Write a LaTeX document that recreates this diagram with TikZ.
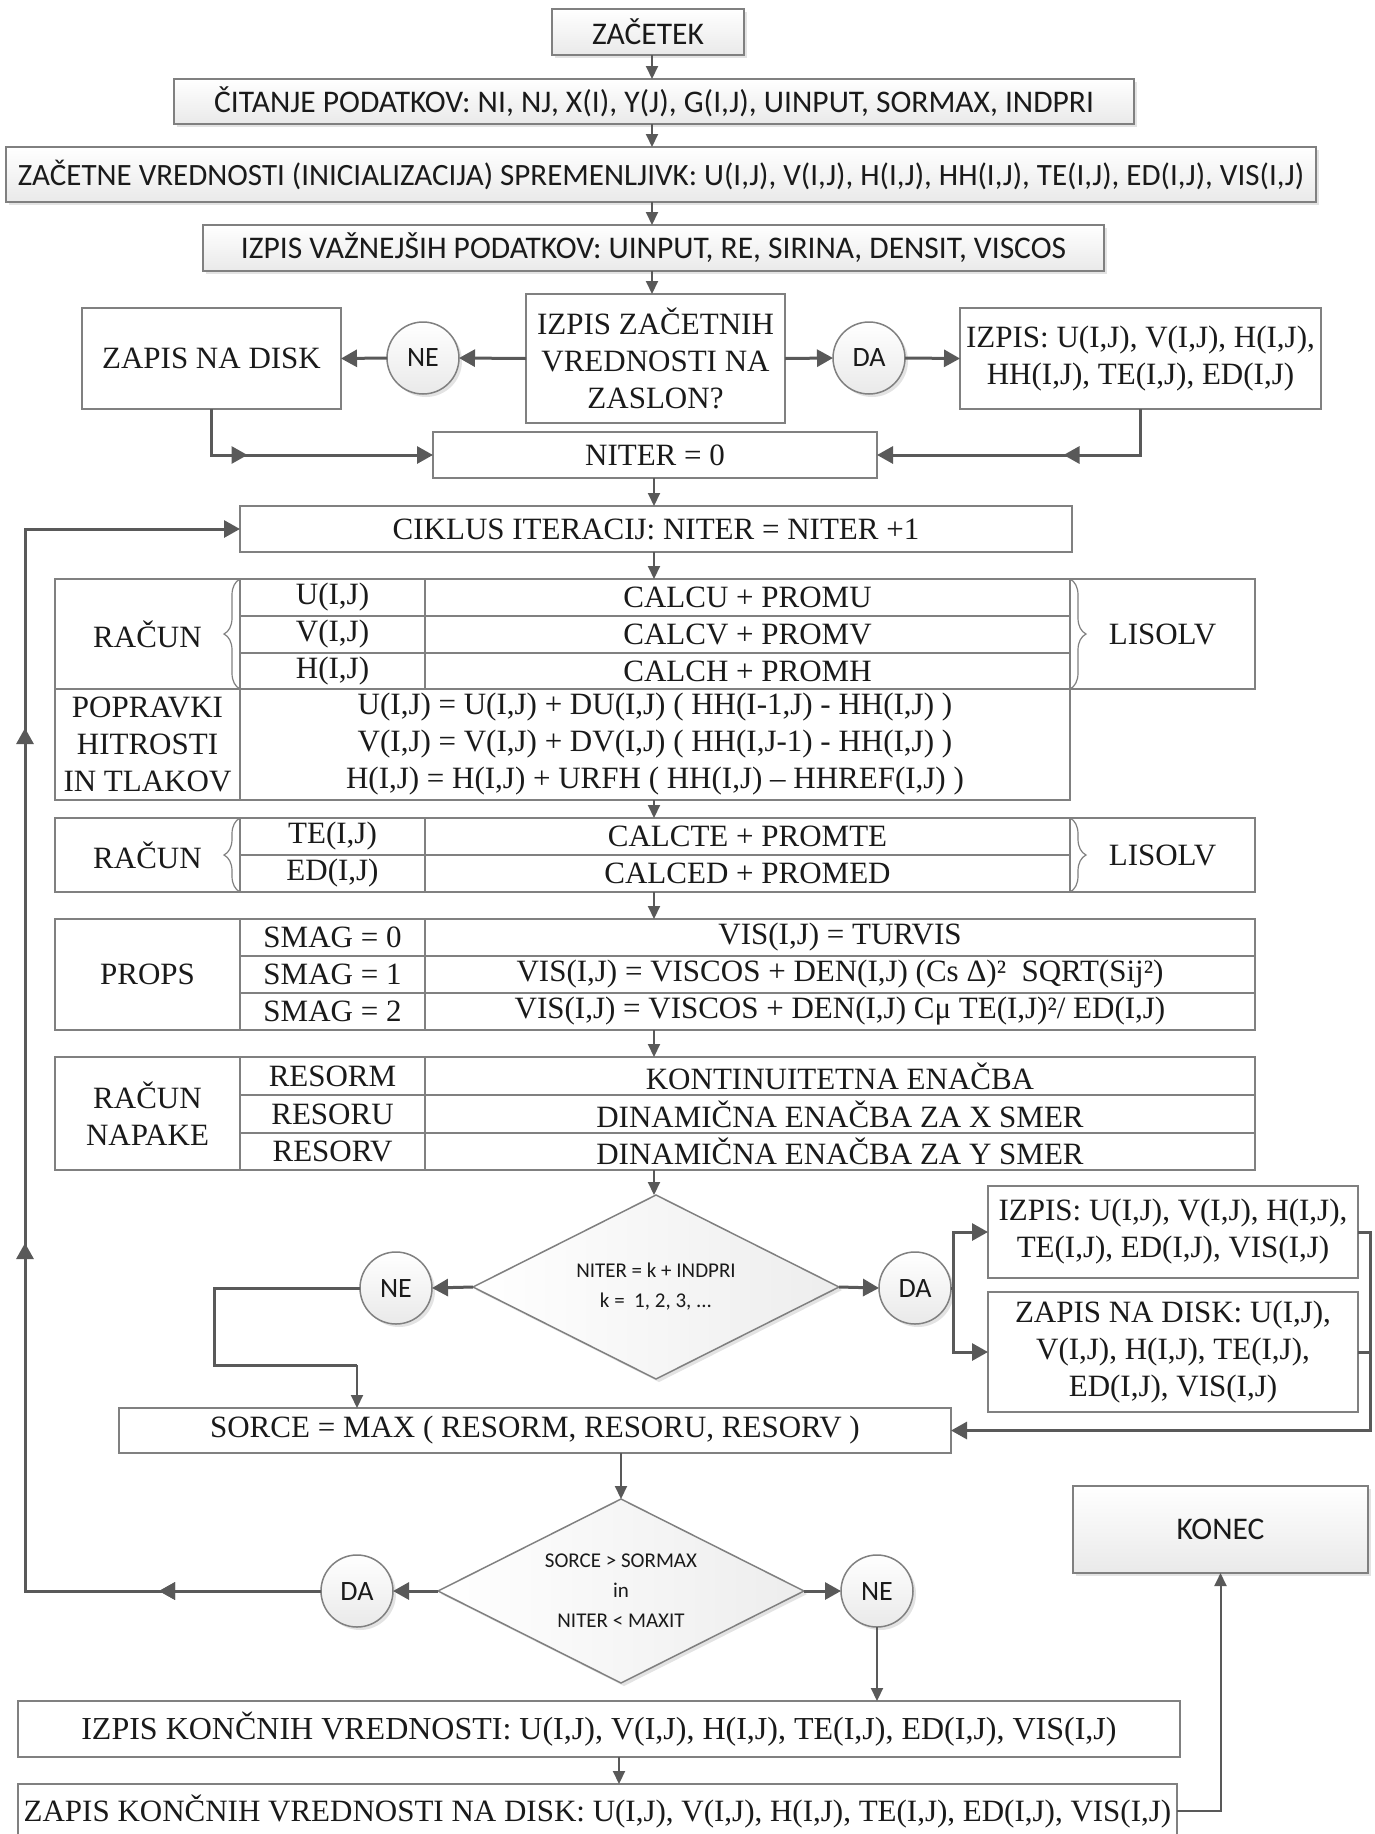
\documentclass[tikz,border=0pt]{standalone}
\usepackage{fontspec}
\setmainfont{Liberation Serif}
\newfontfamily\calfont{Carlito}
\usetikzlibrary{arrows.meta,shapes.geometric,shadows,decorations.pathreplacing,decorations.markings}

\definecolor{linegray}{HTML}{595959}
\definecolor{framegray}{HTML}{808080}
\definecolor{ink}{HTML}{1A1A1A}

\newcommand{\txtserif}{\fontsize{31}{37}\selectfont}
\newcommand{\txtsans}{\calfont\fontsize{31.5}{36}\selectfont}
\newcommand{\txtsmall}{\calfont\fontsize{21}{30}\selectfont}
\newcommand{\txtcirc}{\calfont\fontsize{28}{30}\selectfont}

\tikzset{
  box/.style={draw=framegray, line width=1.5pt, inner sep=0pt, outer sep=0pt,
    text=ink, align=center, font=\txtserif, fill=white},
  gbox/.style={box, font=\txtsans, top color=white, bottom color=gray!17,
    drop shadow={opacity=0.22, shadow xshift=3pt, shadow yshift=-3pt}},
  circ/.style={gbox, circle, minimum size=72pt, font=\txtcirc},
  dec/.style={gbox, diamond, aspect=2, minimum width=366pt, minimum height=184pt,
    font=\txtsmall, left color=white, right color=gray!14},
  tip/.tip={Triangle[length=13pt,width=12pt]},
  bigtip/.tip={Triangle[length=16pt,width=17pt]},
  con/.style={draw, color=linegray, line width=2pt, -tip},
  tline/.style={draw, color=linegray, line width=3pt},
  tcon/.style={tline, -bigtip},
  midtip/.style={postaction={decorate}, decoration={markings,
    mark=at position #1 with {\arrow{bigtip}}}},
  brc/.style={draw=framegray, line width=1.2pt, decorate,
    decoration={brace, amplitude=16pt}}
}

\begin{document}
\begin{tikzpicture}[x=1pt, y=-1pt]
\useasboundingbox (0,0) rectangle (1374,1834);
\coordinate (ax) at (652,0);
\coordinate (bx) at (654,0);
\coordinate (cx) at (619,0);

% --- start and input
\node[gbox, minimum width=192pt, minimum height=46pt] (zacetek) at (648,32) {ZAČETEK};
\node[gbox, minimum width=960pt, minimum height=45pt] (citanje) at (654,101.5)
  {ČITANJE PODATKOV: NI, NJ, X(I), Y(J), G(I,J), UINPUT, SORMAX, INDPRI};
\node[gbox, minimum width=1310pt, minimum height=55pt, font=\calfont\fontsize{31}{36}\selectfont]
  (zacetne) at (661,174.5)
  {ZAČETNE VREDNOSTI (INICIALIZACIJA) SPREMENLJIVK: U(I,J), V(I,J), H(I,J), HH(I,J), TE(I,J), ED(I,J), VIS(I,J)};
\node[gbox, minimum width=901pt, minimum height=46pt] (izpisvaz) at (653.5,248)
  {IZPIS VAŽNEJŠIH PODATKOV: UINPUT, RE, SIRINA, DENSIT, VISCOS};

\draw[con] (ax |- zacetek.south) -- (ax |- citanje.north);
\draw[con] (ax |- citanje.south) -- (ax |- zacetne.north);
\draw[con] (ax |- zacetne.south) -- (ax |- izpisvaz.north);

% --- first question
\node[box, minimum width=259pt, minimum height=129pt] (q1) at (655.5,358.5)
  {IZPIS ZAČETNIH\\VREDNOSTI NA\\ZASLON?};
\draw[con] (ax |- izpisvaz.south) -- (ax |- q1.north);
\node[circ] (ne1) at (423,358) {NE};
\node[circ] (da1) at (869,358) {DA};
\node[box, minimum width=259pt, minimum height=101pt] (zapis1) at (211.5,358.5) {ZAPIS NA DISK};
\node[box, minimum width=361pt, minimum height=101pt] (izpis1) at (1140.5,358.5)
  {IZPIS: U(I,J), V(I,J), H(I,J),\\HH(I,J), TE(I,J), ED(I,J)};
\draw[tcon] (q1.west) -- (ne1.east);
\draw[tcon] (ne1.west) -- (zapis1.east);
\draw[tcon] (q1.east) -- (da1.west);
\draw[tcon] (da1.east) -- (izpis1.west);

\node[box, minimum width=444pt, minimum height=46pt] (niter0) at (655,455) {NITER = 0};
\draw[tcon, midtip=82pt] (zapis1.south) |- (niter0.west);
\draw[tcon, midtip=123pt] (izpis1.south) |- (niter0.east);

\node[box, minimum width=832pt, minimum height=46pt] (ciklus) at (656,529)
  {CIKLUS ITERACIJ: NITER = NITER +1};
\draw[con] (bx |- niter0.south) -- (bx |- ciklus.north);

% --- U, V, H equations
\node[box, minimum width=185pt, minimum height=110pt] (t1a) at (147.5,634) {RAČUN};
\node[box, minimum width=185pt, minimum height=37pt] (t1u) at (332.5,597.5) {U(I,J)};
\node[box, minimum width=185pt, minimum height=37pt] (t1v) at (332.5,634.5) {V(I,J)};
\node[box, minimum width=185pt, minimum height=36pt] (t1h) at (332.5,671) {H(I,J)};
\node[box, minimum width=645pt, minimum height=37pt] (t1cu) at (747.5,597.5) {CALCU + PROMU};
\node[box, minimum width=645pt, minimum height=37pt] (t1cv) at (747.5,634.5) {CALCV + PROMV};
\node[box, minimum width=645pt, minimum height=36pt] (t1ch) at (747.5,671) {CALCH + PROMH};
\node[box, minimum width=185pt, minimum height=110pt] (t1l) at (1162.5,634) {LISOLV};
\draw[brc] (t1h.south west) -- (t1u.north west);
\draw[brc] (t1cu.north east) -- (t1ch.south east);
\draw[con] (bx |- ciklus.south) -- (bx |- t1cu.north);

\node[box, minimum width=185pt, minimum height=111pt] (pop1) at (147.5,744.5)
  {POPRAVKI\\HITROSTI\\IN TLAKOV};
\node[box, minimum width=830pt, minimum height=111pt] (pop2) at (655,744.5)
  {U(I,J) = U(I,J) + DU(I,J) ( HH(I-1,J) - HH(I,J) )\\
   V(I,J) = V(I,J) + DV(I,J) ( HH(I,J-1) - HH(I,J) )\\
   H(I,J) = H(I,J) + URFH ( HH(I,J) – HHREF(I,J) )};

% --- TE, ED equations
\node[box, minimum width=185pt, minimum height=74pt] (t2a) at (147.5,855) {RAČUN};
\node[box, minimum width=185pt, minimum height=37pt] (t2te) at (332.5,836.5) {TE(I,J)};
\node[box, minimum width=185pt, minimum height=37pt] (t2ed) at (332.5,873.5) {ED(I,J)};
\node[box, minimum width=645pt, minimum height=37pt] (t2c1) at (747.5,836.5) {CALCTE + PROMTE};
\node[box, minimum width=645pt, minimum height=37pt] (t2c2) at (747.5,873.5) {CALCED + PROMED};
\node[box, minimum width=185pt, minimum height=74pt] (t2l) at (1162.5,855) {LISOLV};
\draw[brc] (t2ed.south west) -- (t2te.north west);
\draw[brc] (t2c1.north east) -- (t2c2.south east);
\draw[con] (bx |- pop2.south) -- (bx |- t2c1.north);

% --- PROPS
\node[box, minimum width=185pt, minimum height=111pt] (p0) at (147.5,974.5) {PROPS};
\node[box, minimum width=185pt, minimum height=37pt] (s0) at (332.5,937.5) {SMAG = 0};
\node[box, minimum width=185pt, minimum height=37pt] (s1) at (332.5,974.5) {SMAG = 1};
\node[box, minimum width=185pt, minimum height=37pt] (s2) at (332.5,1011.5) {SMAG = 2};
\node[box, minimum width=830pt, minimum height=37pt] (f0) at (840,937.5) {VIS(I,J) = TURVIS};
\node[box, minimum width=830pt, minimum height=37pt] (f1) at (840,974.5)
  {VIS(I,J) = VISCOS + DEN(I,J) (Cs Δ)²\ \ SQRT(Sij²)};
\node[box, minimum width=830pt, minimum height=37pt] (f2) at (840,1011.5)
  {VIS(I,J) = VISCOS + DEN(I,J) Cμ TE(I,J)²/ ED(I,J)};
\draw[con] (bx |- t2c2.south) -- (bx |- f0.north);

% --- residuals
\node[box, minimum width=185pt, minimum height=113pt] (n0) at (147.5,1113.5) {RAČUN\\NAPAKE};
\node[box, minimum width=185pt, minimum height=38pt] (r0) at (332.5,1076) {RESORM};
\node[box, minimum width=185pt, minimum height=38pt] (r1) at (332.5,1114) {RESORU};
\node[box, minimum width=185pt, minimum height=37pt] (r2) at (332.5,1151.5) {RESORV};
\node[box, minimum width=830pt, minimum height=38pt] (e0) at (840,1076) {KONTINUITETNA ENAČBA};
\node[box, minimum width=830pt, minimum height=38pt] (e1) at (840,1114) {DINAMIČNA ENAČBA ZA X SMER};
\node[box, minimum width=830pt, minimum height=37pt] (e2) at (840,1151.5) {DINAMIČNA ENAČBA ZA Y SMER};
\draw[con] (bx |- f2.south) -- (bx |- e0.north);

% --- print decision
\node[dec] (d1) at (656,1287) {NITER = k + INDPRI\\k =\ \ 1, 2, 3, ...};
\draw[con] (bx |- e2.south) -- (bx |- d1.north);
\node[circ] (ne2) at (396,1288) {NE};
\node[circ] (da2) at (915,1288) {DA};
\node[box, minimum width=370pt, minimum height=92pt] (izpis2) at (1173,1232)
  {IZPIS: U(I,J), V(I,J), H(I,J),\\TE(I,J), ED(I,J), VIS(I,J)};
\node[box, minimum width=370pt, minimum height=120pt] (zapis2) at (1173,1352)
  {ZAPIS NA DISK: U(I,J),\\V(I,J), H(I,J), TE(I,J),\\ED(I,J), VIS(I,J)};
\node[box, minimum width=832pt, minimum height=45pt] (sorce) at (535,1430.5)
  {SORCE = MAX ( RESORM, RESORU, RESORV )};

\draw[tcon] (d1.west) -- (ne2.east);
\draw[tcon] (d1.east) -- (da2.west);
\draw[tcon] (da2.east) -- ++(2,0) |- (izpis2.west);
\draw[tcon] (da2.east) -- ++(2,0) |- (zapis2.west);
\draw[tcon] (izpis2.east) -- ++(12,0) |- (sorce.east);
\draw[tline] (zapis2.east) -- ++(12,0);
\coordinate (nk) at (357,1365);
\draw[tline] (ne2.west) -| (214,1365) -- (nk);
\draw[con] (nk) -- (nk |- sorce.north);

% --- convergence decision
\node[dec] (d2) at (621,1591) {SORCE > SORMAX\\in\\NITER < MAXIT};
\draw[con] (d2.north |- sorce.south) -- (d2.north);
\node[circ] (da3) at (357,1591) {DA};
\node[circ] (ne3) at (877,1591) {NE};
\draw[tcon] (d2.west) -- (da3.east);
\draw[tcon] (d2.east) -- (ne3.west);
\draw[tcon, midtip=162pt, postaction={decorate, decoration={markings,
    mark=at position 644pt with {\arrow{bigtip}},
    mark=at position 1159pt with {\arrow{bigtip}}}}]
  (da3.west) -- (25,1591) -- (25,529) -- (ciklus.west);

% --- final output
\node[box, minimum width=1162pt, minimum height=56pt, font=\fontsize{32}{37}\selectfont]
  (izpisk) at (599,1729)
  {IZPIS KONČNIH VREDNOSTI: U(I,J), V(I,J), H(I,J), TE(I,J), ED(I,J), VIS(I,J)};
\node[box, minimum width=1159pt, minimum height=54pt] (zapisk) at (597.5,1811)
  {ZAPIS KONČNIH VREDNOSTI NA DISK: U(I,J), V(I,J), H(I,J), TE(I,J), ED(I,J), VIS(I,J)};
\node[gbox, minimum width=295pt, minimum height=87pt] (konec) at (1220.5,1529.5) {KONEC};
\draw[con] (ne3.south) -- (ne3.south |- izpisk.north);
\draw[con] (cx |- izpisk.south) -- (cx |- zapisk.north);
\draw[con] (zapisk.east) -| (konec.south);
\end{tikzpicture}
\end{document}
